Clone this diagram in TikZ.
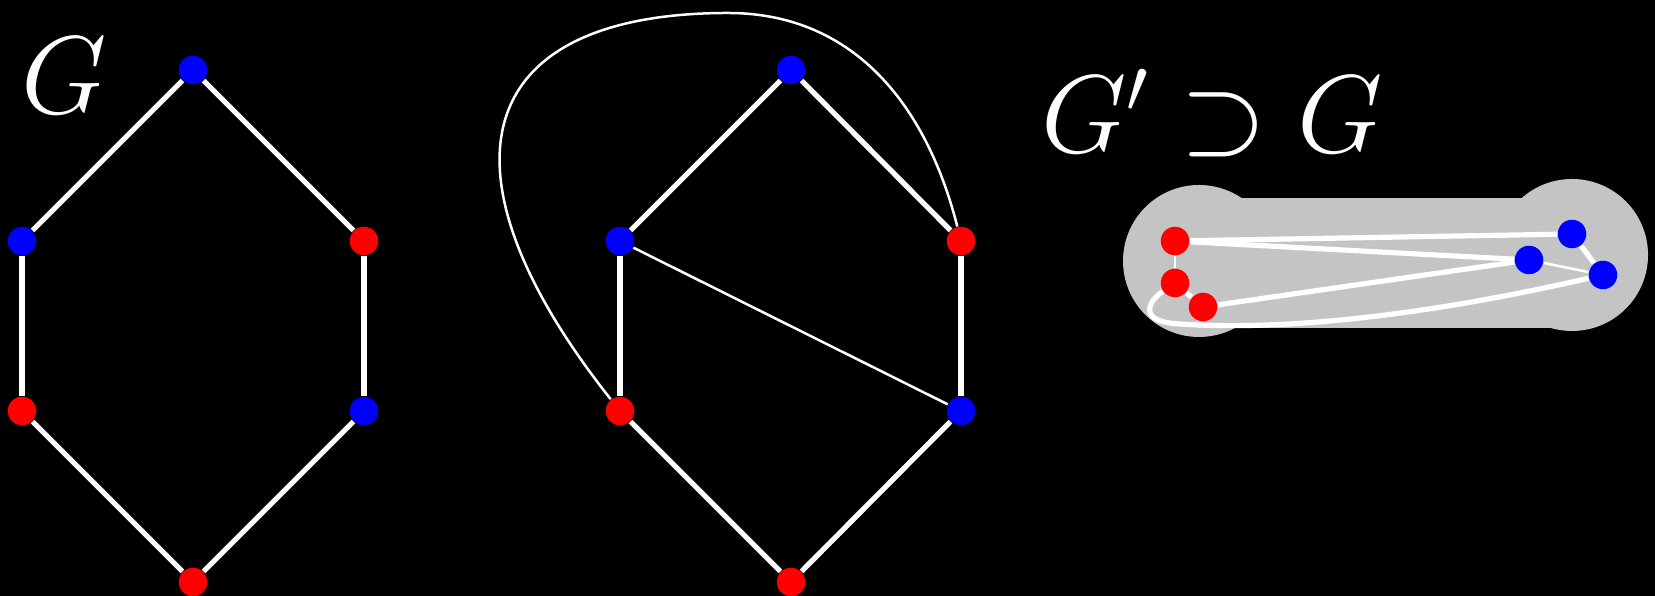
\RequirePackage{fix-cm}
\documentclass[tikz,border=0pt]{standalone}
\definecolor{panelgray}{RGB}{196,196,196}
\begin{document}
\begin{tikzpicture}[
  vtx/.style={circle,inner sep=0pt,minimum size=0.285cm},
  rv/.style={vtx,fill=red},
  bv/.style={vtx,fill=blue},
  thick edge/.style={draw=white,line width=0.052cm},
  thin edge/.style={draw=white,line width=0.025cm},
  lbl/.style={text=white,font=\fontsize{31.5}{38}\selectfont},
]
\fill[black] (0,0) rectangle (16.55,5.96);
\useasboundingbox (0,0) rectangle (16.55,5.96);

% ---------- left graph G
\node[bv] (a1) at (1.93,5.26) {};
\node[bv] (a2) at (0.22,3.55) {};
\node[rv] (a3) at (3.64,3.55) {};
\node[rv] (a4) at (0.22,1.85) {};
\node[bv] (a5) at (3.64,1.85) {};
\node[rv] (a6) at (1.93,0.14) {};
\draw[thick edge] (a1) -- (a2);
\draw[thick edge] (a1) -- (a3);
\draw[thick edge] (a2) -- (a4);
\draw[thick edge] (a3) -- (a5);
\draw[thick edge] (a4) -- (a6);
\draw[thick edge] (a5) -- (a6);
\node[lbl] (gl) at (0.64,5.20) {$G$};

% ---------- middle graph
\node[bv] (b1) at (7.91,5.26) {};
\node[bv] (b2) at (6.20,3.55) {};
\node[rv] (b3) at (9.61,3.55) {};
\node[rv] (b4) at (6.20,1.85) {};
\node[bv] (b5) at (9.61,1.85) {};
\node[rv] (b6) at (7.91,0.14) {};
\draw[thick edge] (b1) -- (b2);
\draw[thick edge] (b1) -- (b3);
\draw[thick edge] (b2) -- (b4);
\draw[thick edge] (b3) -- (b5);
\draw[thick edge] (b4) -- (b6);
\draw[thick edge] (b5) -- (b6);
\draw[thin edge] (b2) -- (b5);
\coordinate (btop) at (7.28,5.83);
\draw[thin edge] (b4) .. controls (4.30,4.25) and (4.70,5.83) .. (btop)
                      .. controls (8.50,5.83) and (9.25,4.96) .. (b3);

% ---------- right panel
\node[lbl,anchor=base] (gp) at (12.12,4.43) {$G'\supset G$};
\fill[panelgray] (11.99,3.35) circle (0.76);
\fill[panelgray] (15.72,3.41) circle (0.76);
\fill[panelgray] (11.99,2.68) rectangle (15.72,3.98);
\node[rv] (r1) at (11.75,3.55) {};
\node[rv] (r2) at (11.75,3.13) {};
\node[rv] (r3) at (12.03,2.89) {};
\node[bv] (c1) at (15.72,3.62) {};
\node[bv] (c2) at (15.29,3.36) {};
\node[bv] (c3) at (16.03,3.21) {};
\draw[thick edge] (r1) -- (c1);
\draw[thick edge] (r1) -- (c2);
\draw[thin edge] (r1) -- (r2);
\draw[thick edge] (r2) -- (r3);
\draw[thick edge] (r3) -- (c2);
\draw[thick edge] (c1) -- (c3);
\draw[thin edge] (c2) -- (c3);
\coordinate (rloop) at (11.80,2.72);
\draw[thick edge] (r2) .. controls (11.50,2.96) and (11.35,2.74) .. (rloop)
                       .. controls (13.00,2.64) and (14.50,2.86) .. (c3);
\end{tikzpicture}
\end{document}
